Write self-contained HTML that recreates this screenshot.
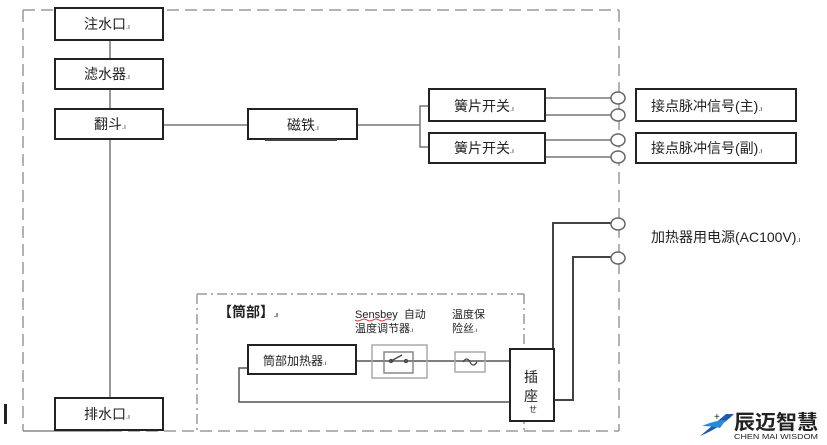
<!DOCTYPE html>
<html><head><meta charset="utf-8"><style>
html,body{margin:0;padding:0;background:#fff;}
svg{display:block;}
text{font-family:"Liberation Sans","Noto Sans CJK SC",sans-serif;fill:#222;}
</style></head><body>
<svg width="827" height="445" viewBox="0 0 827 445" xmlns="http://www.w3.org/2000/svg">
<rect width="827" height="445" fill="#fff"/>
<g fill="none" stroke="#9a9a9a" stroke-width="1.5" stroke-dasharray="12,6">
<line x1="23" y1="10" x2="619" y2="10"/>
<line x1="23" y1="10" x2="23" y2="431"/>
<line x1="619" y1="10" x2="619" y2="431"/>
<line x1="110" y1="431" x2="619" y2="431"/>
</g>
<line x1="23" y1="431" x2="110" y2="431" stroke="#888" stroke-width="1.5"/>
<g fill="none" stroke="#999" stroke-width="1.5" stroke-dasharray="10,4,2,4">
<line x1="197" y1="294" x2="524" y2="294"/>
<line x1="197" y1="294" x2="197" y2="431"/>
<line x1="524" y1="294" x2="524" y2="431"/>
</g>
<g stroke="#777" stroke-width="1.5" fill="none">
<line x1="110" y1="40" x2="110" y2="398"/>
<line x1="163" y1="125" x2="248" y2="125"/>
<line x1="357" y1="125" x2="420" y2="125"/>
<polyline points="429,106 420,106 420,147 429,147"/>
<line x1="545" y1="98" x2="612" y2="98"/>
<line x1="545" y1="115" x2="612" y2="115"/>
<line x1="545" y1="140" x2="612" y2="140"/>
<line x1="545" y1="157" x2="612" y2="157"/>
</g>
<g stroke="#444" stroke-width="2" fill="none">
<polyline points="612,223 553,223 553,349"/>
<polyline points="612,257 573,257 573,400 554,400"/>
</g>
<g stroke="#555" stroke-width="1.5" fill="none">
<line x1="356" y1="361" x2="510" y2="361"/>
<polyline points="248,368 239,368 239,402 510,402"/>
</g>
<g fill="#fff" stroke="#666" stroke-width="1.5">
<ellipse cx="618" cy="98" rx="7" ry="6"/>
<ellipse cx="618" cy="115" rx="7" ry="6"/>
<ellipse cx="618" cy="140" rx="7" ry="6"/>
<ellipse cx="618" cy="157" rx="7" ry="6"/>
<ellipse cx="618" cy="224" rx="7" ry="6"/>
<ellipse cx="618" cy="258" rx="7" ry="6"/>
</g>
<g fill="#fff" stroke="#222" stroke-width="2">
<rect x="55" y="8" width="108" height="32"/>
<rect x="55" y="59" width="108" height="30"/>
<rect x="55" y="109" width="108" height="30"/>
<rect x="248" y="109" width="109" height="30"/>
<rect x="55" y="398" width="108" height="32"/>
<rect x="429" y="89" width="116" height="32"/>
<rect x="429" y="133" width="116" height="30"/>
<rect x="636" y="89" width="160" height="32"/>
<rect x="636" y="133" width="160" height="30"/>
<rect x="248" y="345" width="108" height="29"/>
<rect x="510" y="349" width="44" height="72"/>
</g>
<line x1="265" y1="140" x2="337" y2="140" stroke="#444" stroke-width="2"/>
<g fill="none" stroke="#aaa" stroke-width="1.5">
<rect x="372" y="345" width="55" height="33"/>
<rect x="455" y="352" width="30" height="20"/>
</g>
<rect x="384" y="352" width="29" height="21" fill="none" stroke="#888" stroke-width="1.5"/>
<g stroke="#444" stroke-width="1.3" fill="none">
<line x1="391" y1="361" x2="402" y2="355"/>
<circle cx="391" cy="361" r="1.5"/><circle cx="406" cy="361" r="1.5"/>
<path d="M463 362 q4 -6 7 0 q3 6 7 0"/>
</g>
<g font-size="14">
<text x="84" y="29">注水口<tspan font-size="7">.ı</tspan></text>
<text x="84" y="79">滤水器<tspan font-size="7">.ı</tspan></text>
<text x="94" y="129">翻斗<tspan font-size="7">.ı</tspan></text>
<text x="287" y="130">磁铁<tspan font-size="7">.ı</tspan></text>
<text x="84" y="419">排水口<tspan font-size="7">.ı</tspan></text>
<text x="454" y="111">簧片开关<tspan font-size="7">.ı</tspan></text>
<text x="454" y="153">簧片开关<tspan font-size="7">.ı</tspan></text>
<text x="651" y="111">接点脉冲信号(主)<tspan font-size="7">.ı</tspan></text>
<text x="651" y="153">接点脉冲信号(副)<tspan font-size="7">.ı</tspan></text>
<text x="651" y="242">加热器用电源(AC100V)<tspan font-size="7">.ı</tspan></text>
<text x="218" y="317" font-weight="bold" fill="#335">【筒部】<tspan font-size="7">.ı</tspan></text>
<text x="524" y="382">插</text>
<text x="524" y="401">座</text>
</g>
<g font-size="11">
<text x="355" y="318" fill="#555">Sensbey<tspan dx="6">自动</tspan></text>
<text x="355" y="332">温度调节器<tspan font-size="6">.ı</tspan></text>
<text x="452" y="318">温度保</text>
<text x="452" y="332">险丝<tspan font-size="6">.ı</tspan></text>
<text x="263" y="365" font-size="12">筒部加热器<tspan font-size="6">.ı</tspan></text>
<text x="529" y="412" font-size="8">ㄝ</text>
</g>
<path d="M355 320 q3 2 6 0 q3 -2 6 0 q3 2 6 0 q3 -2 6 0 q3 2 6 0 q3 -2 6 0" stroke="#d33" stroke-width="1" fill="none"/>
<rect x="4" y="404" width="3" height="20" fill="#222"/>
<path d="M700 436 Q720 428 734 414 L726 414 Q712 426 700 436 Z" fill="#1a5bb0"/>
<path d="M702 426 Q716 420 726 420 L720 428 Q710 426 702 426Z" fill="#2a8ad8"/>
<text x="714" y="420" font-size="10" fill="#1a5bb0">+</text>
<text x="734" y="429" font-size="20" font-weight="bold" fill="#1d2d5a" textLength="84" lengthAdjust="spacingAndGlyphs">辰迈智慧</text>
<text x="734" y="439" font-size="7.5" fill="#1d2d5a" textLength="84" lengthAdjust="spacingAndGlyphs">CHEN MAI WISDOM</text>
</svg>
</body></html>
